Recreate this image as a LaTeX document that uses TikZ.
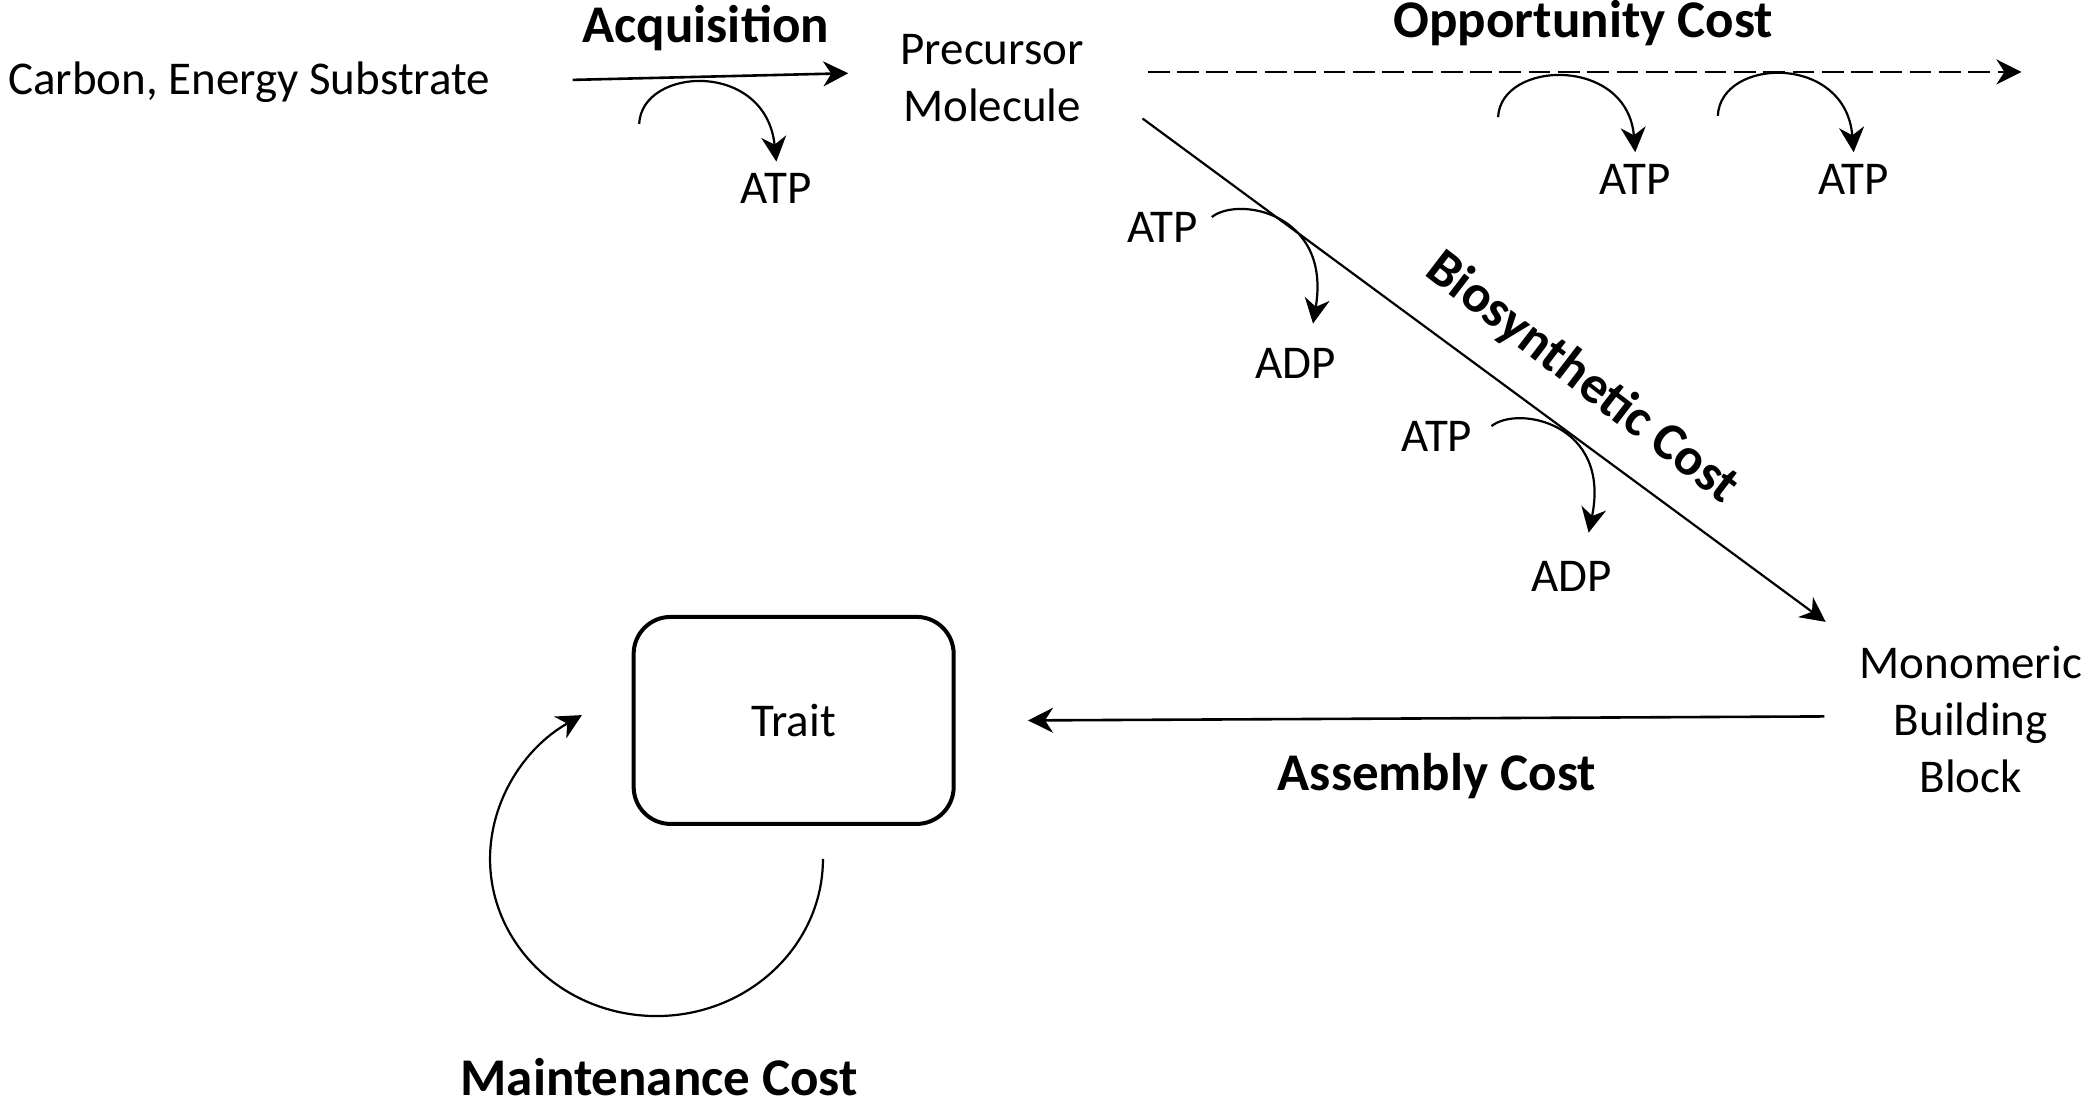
\documentclass[tikz,border=0pt]{standalone}
\usepackage{fontspec}
\setmainfont{Carlito}
\usetikzlibrary{arrows.meta}
\begin{document}
\begin{tikzpicture}[x=1.3316pt,y=-1.3316pt,
  every node/.style={inner sep=0pt, outer sep=0pt},
  txt/.style={font=\fontsize{47}{57}\selectfont, align=center},
  cost/.style={font=\fontsize{53}{60}\selectfont\bfseries},
  tip/.style={-{Stealth[length=25pt,width=25pt,inset=8pt]}},
  flow/.style={line width=2.6pt, tip},
  curl/.style={line width=2.2pt, tip},
  traitbox/.style={txt, draw, line width=4pt, rounded corners=37pt,
    minimum width=320pt, minimum height=207pt},
]
\useasboundingbox (0,0) rectangle (1568,830);

% ---- main species ----
\node[txt, anchor=base] (substrate) at (187,71) {Carbon, Energy Substrate};
\node[txt] (precursor) at (745,59) {Precursor\\Molecule};
\node[txt] (monomer) at (1480,540) {Monomeric\\Building\\Block};
\node[traitbox] (trait) at (596,541) {Trait};

% ---- cost labels ----
\node[cost, anchor=base] (acqlbl) at (530,32) {Acquisition};
\node[cost, anchor=base] (opplbl) at (1189,28) {Opportunity Cost};
\node[cost, rotate=-37.5] (biolbl) at (1188,284) {Biosynthetic Cost};
\node[cost, anchor=base] (asmlbl) at (1079,594) {Assembly Cost};
\node[cost, anchor=base] (mntlbl) at (495,823) {Maintenance Cost};

% ---- energy carriers ----
\node[txt, anchor=base] (atpA) at (583,153) {ATP};
\node[txt, anchor=base] (atpO1) at (1228,146) {ATP};
\node[txt, anchor=base] (atpO2) at (1392,146) {ATP};
\node[txt, anchor=base] (atpB1) at (873,182) {ATP};
\node[txt, anchor=base] (adpB1) at (973,284) {ADP};
\node[txt, anchor=base] (atpB2) at (1079,339) {ATP};
\node[txt, anchor=base] (adpB2) at (1180,444) {ADP};

% ---- connector end points ----
\coordinate (acqS) at (430,60);
\coordinate (acqE) at (637,55);
\coordinate (oppS) at (862,54);
\coordinate (oppE) at (1518,54);
\coordinate (bioS) at (858,89);
\coordinate (bioE) at (1371,467);
\coordinate (asmS) at (1370,538);
\coordinate (asmE) at (772,541);

% main pathway
\draw[flow] (acqS) -- (acqE);
\draw[flow, dash pattern=on 21.7pt off 7.6pt] (oppS) -- (oppE);
\draw[flow, line width=2.2pt] (bioS) -- (bioE);
\draw[flow] (asmS) -- (asmE);

% ATP side reactions
\coordinate (cA) at (480,93);
\draw[curl] (cA) .. controls (482,50) and (575,45) .. ([yshift=12pt]atpA.north);
\coordinate (cO1) at (1125,88);
\draw[curl] (cO1) .. controls (1127,45) and (1222,42) .. ([yshift=12pt]atpO1.north);
\coordinate (cO2) at (1290,87);
\draw[curl] (cO2) .. controls (1292,43) and (1386,40) .. ([yshift=12pt]atpO2.north);
\coordinate (cB1) at (910,163);
\draw[curl] (cB1) .. controls (930,147) and (1000,160) .. (986,243);
\coordinate (cB2) at (1120,320);
\draw[curl] (cB2) .. controls (1140,304) and (1210,318) .. (1193,400);

% maintenance loop around the trait
\coordinate (mS) at (618,645);
\coordinate (mE) at (437,537);
\draw[curl] (mS) .. controls (618,710) and (562,763) .. (493,763)
  .. controls (424,763) and (368,710) .. (368,645)
  .. controls (368,602) and (393,562) .. (mE);
\end{tikzpicture}
\end{document}
